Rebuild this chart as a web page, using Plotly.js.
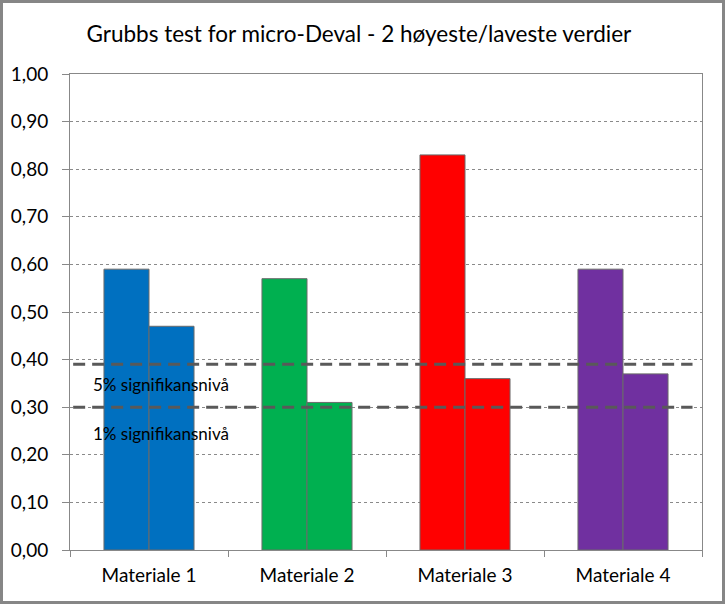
<!DOCTYPE html>
<html>
<head>
<meta charset="utf-8">
<script src="https://cdn.plot.ly/plotly-3.0.1.min.js"></script>
<style>
  html, body { margin: 0; padding: 0; background: #fff; }
  #wrap { position: relative; width: 725px; height: 604px; }
  #chart { width: 725px; height: 604px; }
  #frame { position: absolute; left: 0; top: 0; width: 725px; height: 604px;
           box-sizing: border-box; border: 3px solid #868686; pointer-events: none; }
</style>
</head>
<body>
<div id="wrap"><div id="chart"></div><div id="frame"></div></div>
<script>
const categories = ["Materiale 1", "Materiale 2", "Materiale 3", "Materiale 4"];
const highest = [0.59, 0.57, 0.83, 0.59];
const lowest = [0.47, 0.31, 0.36, 0.37];
const barColors = ["#0070C0", "#00B050", "#FF0000", "#7030A0"];
const thresholds = [0.39, 0.30];
const thresholdLabels = ["5% signifikansnivå", "1% signifikansnivå"];
const titleText = "Grubbs test for micro-Deval - 2 høyeste/laveste verdier";

const font = "Lato, 'Open Sans', sans-serif";

const traces = [highest, lowest].map((vals, i) => ({
  type: "bar",
  x: categories,
  y: vals,
  name: "s" + (i + 1),
  marker: { color: barColors, line: { color: "#6b6b6b", width: 1 } },
  hoverinfo: "skip"
}));

const shapes = thresholds.map(v => ({
  type: "line", xref: "paper", yref: "y",
  x0: 0.005, x1: 0.985, y0: v, y1: v,
  line: { color: "#595959", width: 3, dash: "12px,7px" }
}));

const annotations = thresholds.map((v, i) => ({
  xref: "paper", yref: "y", x: 0.144, xanchor: "center", y: v, yanchor: "middle",
  yshift: -20 - (i === 1 ? 6 : 0),
  text: thresholdLabels[i], showarrow: false,
  font: { family: font, size: 17, color: "#000" }
}));

const layout = {
  width: 725, height: 604,
  margin: { l: 70, r: 23, t: 74, b: 54 },
  paper_bgcolor: "#fff", plot_bgcolor: "#fff",
  separators: ",.",
  showlegend: false,
  barmode: "group",
  bargap: 0.43, bargroupgap: 0,
  title: { text: titleText, x: 0.495, xanchor: "center", y: 0.944, yanchor: "middle",
           font: { family: font, size: 22.5, color: "#000" } },
  xaxis: {
    type: "category", showline: true, linecolor: "#888", linewidth: 1, mirror: true,
    ticks: "outside", tickson: "boundaries", ticklen: 6, tickcolor: "#888",
    ticklabelstandoff: 8,
    tickfont: { family: font, size: 19, color: "#000" },
    showgrid: false, zeroline: false
  },
  yaxis: {
    range: [0, 1], dtick: 0.1, tick0: 0, tickformat: ".2f",
    showline: true, linecolor: "#888", linewidth: 1, mirror: true,
    ticks: "outside", ticklen: 7, tickcolor: "#888",
    ticklabelstandoff: 10,
    tickfont: { family: font, size: 19, color: "#000" },
    showgrid: true, gridcolor: "#8a8a8a", gridwidth: 1, griddash: "dot",
    zeroline: false
  },
  shapes: shapes,
  annotations: annotations
};

Plotly.newPlot("chart", traces, layout, { displayModeBar: false, staticPlot: true });
</script>
</body>
</html>
